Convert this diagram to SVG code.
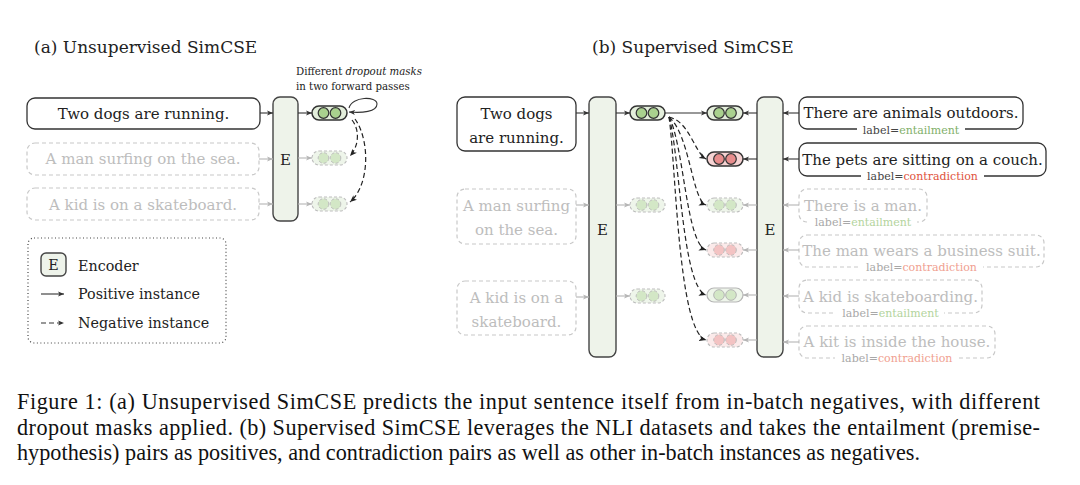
<svg xmlns="http://www.w3.org/2000/svg" width="1080" height="485" viewBox="0 0 1080 485">
<style>
text{font-family:"DejaVu Serif",serif;fill:#222}
.ttl{font-size:17px}
.m{font-size:15px}
.s{font-size:10.2px}
.lg{font-size:14.3px}
.lb{font-size:11px}
.cap{font-family:"Liberation Serif","Times New Roman",serif;font-size:22.2px;fill:#111}
.fd{fill:#bdbdbd}
.box{fill:#fff;stroke:#333;stroke-width:1.3}
.dbox{fill:#fff;stroke:#c8c8c8;stroke-width:1.2;stroke-dasharray:4 3}
.enc{fill:#eef3ea;stroke:#444;stroke-width:1.4}
.pg{fill:#e3eedb;stroke:#333;stroke-width:1.5}
.cg{fill:#a9d18e;stroke:#333;stroke-width:1.2}
.pr{fill:#f6d3d3;stroke:#333;stroke-width:1.5}
.cr{fill:#e88d8d;stroke:#333;stroke-width:1.2}
.dpg{fill:#eef5ea;stroke:#bdbdbd;stroke-width:1.1;stroke-dasharray:3 2}
.dcg{fill:#d3e7c6;stroke:#bdbdbd;stroke-width:1;stroke-dasharray:3 2}
.dpr{fill:#fbeaea;stroke:#bdbdbd;stroke-width:1.1;stroke-dasharray:3 2}
.dcr{fill:#f3c3c3;stroke:#bdbdbd;stroke-width:1;stroke-dasharray:3 2}
.lpg{fill:#eef5ea;stroke:#b5b5b5;stroke-width:1.2}
.lcg{fill:#d3e7c6;stroke:#b5b5b5;stroke-width:1}
.a{stroke:#333;stroke-width:1.1;fill:none;marker-end:url(#ad)}
.ag{stroke:#b5b5b5;stroke-width:1.1;fill:none;marker-end:url(#ag)}
.n{stroke:#222;stroke-width:1.2;fill:none;stroke-dasharray:5 3;marker-end:url(#an)}
.wb{fill:#fff}
.en{fill:#7fb069}
.co{fill:#e0533d}
.enf{fill:#b3d49d}
.cof{fill:#f0a090}
.lgr{fill:#444}
.lgf{fill:#a8a8a8}
</style>
<defs>
<marker id="ad" markerUnits="userSpaceOnUse" markerWidth="7" markerHeight="6" refX="6" refY="3" orient="auto"><path d="M0,0.5 L6,3 L0,5.5 L1.5,3 z" fill="#333"/></marker>
<marker id="ag" markerUnits="userSpaceOnUse" markerWidth="7" markerHeight="6" refX="6" refY="3" orient="auto"><path d="M0,0.5 L6,3 L0,5.5 L1.5,3 z" fill="#b5b5b5"/></marker>
<marker id="an" markerUnits="userSpaceOnUse" markerWidth="8" markerHeight="7" refX="7" refY="3.5" orient="auto"><path d="M0,0.5 L7,3.5 L0,6.5 L1.8,3.5 z" fill="#222"/></marker>
</defs>

<!-- (a) Unsupervised -->
<text class="ttl" x="34" y="53">(a) Unsupervised SimCSE</text>
<text class="s" x="296" y="75">Different <tspan font-style="italic">dropout masks</tspan></text>
<text class="s" x="296" y="90">in two forward passes</text>

<g id="a-s1"><rect class="box" x="27" y="98" width="233" height="31" rx="8"/><text class="m" x="143.5" y="119" text-anchor="middle">Two dogs are running.</text></g>
<g id="a-s2"><rect class="dbox" x="27" y="143" width="232" height="32" rx="8"/><text class="m fd" x="143" y="164" text-anchor="middle">A man surfing on the sea.</text></g>
<g id="a-s3"><rect class="dbox" x="27" y="188" width="232" height="32" rx="8"/><text class="m fd" x="143" y="210" text-anchor="middle">A kid is on a skateboard.</text></g>
<g id="a-enc"><rect class="enc" x="273" y="97" width="25" height="124" rx="7"/><text class="m" x="285.5" y="165" text-anchor="middle">E</text></g>
<g id="a-p1"><rect class="pg" x="312" y="106" width="35" height="14" rx="7"/><circle class="cg" cx="323.5" cy="113" r="5.3"/><circle class="cg" cx="335.5" cy="113" r="5.3"/></g>
<g id="a-p2"><rect class="dpg" x="312" y="151" width="35" height="14" rx="7"/><circle class="dcg" cx="323.5" cy="158" r="5.3"/><circle class="dcg" cx="335.5" cy="158" r="5.3"/></g>
<g id="a-p3"><rect class="dpg" x="312" y="197" width="35" height="14" rx="7"/><circle class="dcg" cx="323.5" cy="204" r="5.3"/><circle class="dcg" cx="335.5" cy="204" r="5.3"/></g>

<g id="a-legend">
<rect x="28" y="238" width="198" height="105" rx="6" fill="none" stroke="#444" stroke-width="1.2" stroke-dasharray="1 2.5"/>
<rect class="enc" x="41" y="253" width="25" height="23" rx="5"/><text class="lg" x="53.5" y="270" text-anchor="middle">E</text>
<text class="lg" x="78" y="271">Encoder</text>
<line class="a" x1="41" y1="294" x2="64" y2="294"/>
<text class="lg" x="78" y="299">Positive instance</text>
<line class="a" x1="41" y1="323" x2="64" y2="323" stroke-dasharray="5 3"/>
<text class="lg" x="78" y="328">Negative instance</text>
</g>

<!-- (b) Supervised -->
<text class="ttl" x="592" y="53">(b) Supervised SimCSE</text>

<g id="b-l1"><rect class="box" x="457" y="97" width="119" height="54" rx="8"/><text class="m" x="516.5" y="119" text-anchor="middle">Two dogs</text><text class="m" x="516.5" y="143" text-anchor="middle">are running.</text></g>
<g id="b-l2"><rect class="dbox" x="457" y="189" width="119" height="55" rx="8"/><text class="m fd" x="516.5" y="211" text-anchor="middle">A man surfing</text><text class="m fd" x="516.5" y="235" text-anchor="middle">on the sea.</text></g>
<g id="b-l3"><rect class="dbox" x="457" y="281" width="119" height="54" rx="8"/><text class="m fd" x="516.5" y="303" text-anchor="middle">A kid is on a</text><text class="m fd" x="516.5" y="327" text-anchor="middle">skateboard.</text></g>
<g id="b-enc1"><rect class="enc" x="589" y="97" width="27" height="260" rx="7"/><text class="m" x="602.5" y="235" text-anchor="middle">E</text></g>
<g id="b-enc2"><rect class="enc" x="757" y="97" width="26" height="260" rx="7"/><text class="m" x="770" y="235" text-anchor="middle">E</text></g>

<g id="b-lp1"><rect class="pg" x="630" y="106" width="35" height="14" rx="7"/><circle class="cg" cx="641.5" cy="113" r="5.3"/><circle class="cg" cx="653.5" cy="113" r="5.3"/></g>
<g id="b-lp2"><rect class="dpg" x="630" y="198" width="35" height="14" rx="7"/><circle class="dcg" cx="641.5" cy="205" r="5.3"/><circle class="dcg" cx="653.5" cy="205" r="5.3"/></g>
<g id="b-lp3"><rect class="dpg" x="630" y="289" width="35" height="14" rx="7"/><circle class="dcg" cx="641.5" cy="296" r="5.3"/><circle class="dcg" cx="653.5" cy="296" r="5.3"/></g>

<g id="b-rp1"><rect class="pg" x="707" y="106" width="36" height="14" rx="7"/><circle class="cg" cx="719" cy="113" r="5.3"/><circle class="cg" cx="731" cy="113" r="5.3"/></g>
<g id="b-rp2"><rect class="pr" x="707" y="152" width="36" height="14" rx="7"/><circle class="cr" cx="719" cy="159" r="5.3"/><circle class="cr" cx="731" cy="159" r="5.3"/></g>
<g id="b-rp3"><rect class="dpg" x="707" y="198" width="36" height="14" rx="7"/><circle class="dcg" cx="719" cy="205" r="5.3"/><circle class="dcg" cx="731" cy="205" r="5.3"/></g>
<g id="b-rp4"><rect class="dpr" x="707" y="243" width="36" height="14" rx="7"/><circle class="dcr" cx="719" cy="250" r="5.3"/><circle class="dcr" cx="731" cy="250" r="5.3"/></g>
<g id="b-rp5"><rect class="lpg" x="707" y="288" width="36" height="14" rx="7"/><circle class="lcg" cx="719" cy="295" r="5.3"/><circle class="lcg" cx="731" cy="295" r="5.3"/></g>
<g id="b-rp6"><rect class="dpr" x="707" y="333" width="36" height="14" rx="7"/><circle class="dcr" cx="719" cy="340" r="5.3"/><circle class="dcr" cx="731" cy="340" r="5.3"/></g>

<g id="b-r1"><rect class="box" x="799" y="97" width="224" height="32" rx="8"/><text class="m" x="911" y="118" text-anchor="middle">There are animals outdoors.</text>
<rect class="wb" x="857" y="125" width="108" height="9"/><text class="lb" x="911" y="134" text-anchor="middle"><tspan class="lgr">label=</tspan><tspan class="en">entailment</tspan></text></g>
<g id="b-r2"><rect class="box" x="799" y="143" width="247" height="33" rx="8"/><text class="m" x="922.5" y="165" text-anchor="middle">The pets are sitting on a couch.</text>
<rect class="wb" x="861" y="172" width="123" height="9"/><text class="lb" x="922.5" y="180" text-anchor="middle"><tspan class="lgr">label=</tspan><tspan class="co">contradiction</tspan></text></g>
<g id="b-r3"><rect class="dbox" x="799" y="189" width="128" height="33" rx="8"/><text class="m fd" x="863" y="211" text-anchor="middle">There is a man.</text>
<rect class="wb" x="809" y="218" width="108" height="9"/><text class="lb" x="863" y="226" text-anchor="middle"><tspan class="lgf">label=</tspan><tspan class="enf">entailment</tspan></text></g>
<g id="b-r4"><rect class="dbox" x="799" y="235" width="245" height="32" rx="8"/><text class="m fd" x="921.5" y="256" text-anchor="middle">The man wears a business suit.</text>
<rect class="wb" x="860" y="263" width="123" height="9"/><text class="lb" x="921.5" y="271" text-anchor="middle"><tspan class="lgf">label=</tspan><tspan class="cof">contradiction</tspan></text></g>
<g id="b-r5"><rect class="dbox" x="799" y="280" width="183" height="33" rx="8"/><text class="m fd" x="890.5" y="302" text-anchor="middle">A kid is skateboarding.</text>
<rect class="wb" x="836" y="309" width="108" height="9"/><text class="lb" x="890.5" y="317" text-anchor="middle"><tspan class="lgf">label=</tspan><tspan class="enf">entailment</tspan></text></g>
<g id="b-r6"><rect class="dbox" x="799" y="326" width="196" height="32" rx="8"/><text class="m fd" x="897" y="347" text-anchor="middle">A kit is inside the house.</text>
<rect class="wb" x="835" y="354" width="124" height="9"/><text class="lb" x="897" y="362" text-anchor="middle"><tspan class="lgf">label=</tspan><tspan class="cof">contradiction</tspan></text></g>

<g id="connectors">
<line class="a" x1="260" y1="113" x2="273" y2="113"/>
<line class="ag" x1="259" y1="159" x2="273" y2="159"/>
<line class="ag" x1="259" y1="204" x2="273" y2="204"/>
<line class="a" x1="298" y1="113" x2="312" y2="113"/>
<line class="ag" x1="298" y1="158" x2="312" y2="158"/>
<line class="ag" x1="298" y1="204" x2="312" y2="204"/>
<path class="a" d="M349,108 C352,96 377,96 377,104 C377,112 362,113 349,112"/>
<path class="n" d="M352,120 C360,130 359,146 350,156"/>
<path class="n" d="M355,119 C370,140 370,185 350,202"/>

<line class="a" x1="576" y1="113" x2="589" y2="113"/>
<line class="ag" x1="576" y1="205" x2="589" y2="205"/>
<line class="ag" x1="576" y1="297" x2="589" y2="297"/>
<line class="a" x1="616" y1="113" x2="630" y2="113"/>
<line class="ag" x1="616" y1="205" x2="630" y2="205"/>
<line class="ag" x1="616" y1="296" x2="630" y2="296"/>
<line class="a" x1="665" y1="113" x2="707" y2="113"/>
<path class="n" d="M669,117 C690,122 694,152 706,159"/>
<path class="n" d="M669,117 C690,135 692,200 706,205"/>
<path class="n" d="M669,117 C684,145 686,243 706,250"/>
<path class="n" d="M669,117 C680,155 682,287 706,295"/>
<path class="n" d="M669,117 C676,165 678,332 706,340"/>
<line class="a" x1="757" y1="113" x2="743" y2="113"/>
<line class="a" x1="757" y1="159" x2="743" y2="159"/>
<line class="ag" x1="757" y1="205" x2="743" y2="205"/>
<line class="ag" x1="757" y1="250" x2="743" y2="250"/>
<line class="ag" x1="757" y1="295" x2="743" y2="295"/>
<line class="ag" x1="757" y1="340" x2="743" y2="340"/>
<line class="a" x1="799" y1="113" x2="783" y2="113"/>
<line class="a" x1="799" y1="159" x2="783" y2="159"/>
<line class="ag" x1="799" y1="205" x2="783" y2="205"/>
<line class="ag" x1="799" y1="250" x2="783" y2="250"/>
<line class="ag" x1="799" y1="296" x2="783" y2="296"/>
<line class="ag" x1="799" y1="342" x2="783" y2="342"/>
</g>

<g id="caption">
<text class="cap" x="17" y="409" textLength="1023" lengthAdjust="spacing">Figure 1: (a) Unsupervised SimCSE predicts the input sentence itself from in-batch negatives, with different</text>
<text class="cap" x="17" y="435" textLength="1023" lengthAdjust="spacing">dropout masks applied. (b) Supervised SimCSE leverages the NLI datasets and takes the entailment (premise-</text>
<text class="cap" x="17" y="460" textLength="903" lengthAdjust="spacing">hypothesis) pairs as positives, and contradiction pairs as well as other in-batch instances as negatives.</text>
</g>
</svg>
